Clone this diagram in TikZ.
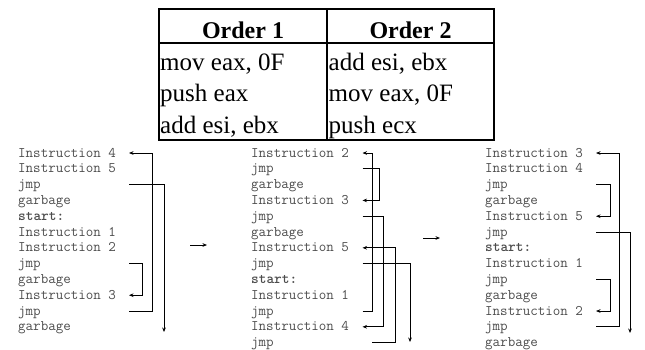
\documentclass[tikz,border=0pt]{standalone}
\usepackage{fontspec}
\setmainfont{Liberation Serif}
\usetikzlibrary{arrows.meta}
\begin{document}
\begin{tikzpicture}[x=1pt,y=-1pt,
  grid/.style={line width=1.6pt},
  head/.style={anchor=base, inner sep=0pt, font=\fontsize{24}{28}\selectfont\bfseries},
  cell/.style={anchor=base west, inner sep=0pt, font=\fontsize{25}{30}\selectfont},
  code/.style={anchor=base west, inner sep=0pt, text=black!70,
    font=\ttfamily\fontsize{14.6}{16}\selectfont},
  jl/.style={line width=0.7pt, -{Stealth[length=4.5pt,width=3.6pt]}}]
\useasboundingbox (0,0) rectangle (645,349);

% ---- instruction order table ----
\draw[grid] (159,9) rectangle (494,140);
\draw[grid] (159,43) -- (494,43);
\draw[grid] (327,9) -- (327,140);
\node[head] (h1) at (243,38) {Order 1};
\node[head] (h2) at (410.5,38) {Order 2};
\node[cell] (o11) at (160,70) {mov eax, 0F};
\node[cell] (o12) at (160,101.5) {push eax};
\node[cell] (o13) at (160,133) {add esi, ebx};
\node[cell] (o21) at (328.5,70) {add esi, ebx};
\node[cell] (o22) at (328.5,101.5) {mov eax, 0F};
\node[cell] (o23) at (328.5,133) {push ecx};

% ---- listing 1 ----
\foreach \t [count=\i from 0] in {Instruction 4,Instruction 5,jmp,garbage,\textbf{start:},Instruction 1,Instruction 2,jmp,garbage,Instruction 3,jmp,garbage}{
  \node[code] (ta\i) at (18,{157+15.8*\i}) {\t};
  \coordinate (a\i) at (129,{153+15.8*\i});
}
\coordinate (va1) at (142,0);
\coordinate (va2) at (152,0);
\coordinate (aout) at (164,332);
\draw[jl] (a7) -- (a7 -| va1) |- (a9);
\draw[jl] (a10) -- (a10 -| va2) |- (a0);
\draw[jl] (a2) -| (aout);

% ---- listing 2 ----
\foreach \t [count=\i from 0] in {Instruction 2,jmp,garbage,Instruction 3,jmp,garbage,Instruction 5,jmp,\textbf{start:},Instruction 1,jmp,Instruction 4,jmp}{
  \node[code] (tb\i) at (251,{157+15.8*\i}) {\t};
  \coordinate (b\i) at (362.5,{153+15.8*\i});
}
\coordinate (vb1) at (372,0);
\coordinate (vb2) at (379,0);
\coordinate (vb3) at (383,0);
\coordinate (vb4) at (395,0);
\coordinate (bout) at (410,342);
\coordinate (b12s) at (372,{153+15.8*12});
\draw[jl] (b10) -- (b10 -| vb1) |- (b0);
\draw[jl] (b1) -- (b1 -| vb2) |- (b3);
\draw[jl] (b4) -- (b4 -| vb3) |- (b11);
\draw[jl] (b12s) -- (b12s -| vb4) |- (b6);
\draw[jl] (b7) -| (bout);

% ---- listing 3 ----
\foreach \t [count=\i from 0] in {Instruction 3,Instruction 4,jmp,garbage,Instruction 5,jmp,\textbf{start:},Instruction 1,jmp,garbage,Instruction 2,jmp,garbage}{
  \node[code] (tc\i) at (485,{157+15.8*\i}) {\t};
  \coordinate (c\i) at (596,{153+15.8*\i});
}
\coordinate (vc1) at (610,0);
\coordinate (vc2) at (619,0);
\coordinate (cout) at (630,333);
\draw[jl] (c2) -- (c2 -| vc1) |- (c4);
\draw[jl] (c8) -- (c8 -| vc1) |- (c10);
\draw[jl] (c11) -- (c11 -| vc2) |- (c0);
\draw[jl] (c5) -| (cout);

% ---- transformation arrows ----
\coordinate (s1) at (190,245);
\coordinate (e1) at (207,245);
\coordinate (s2) at (423,238);
\coordinate (e2) at (440,238);
\draw[jl] (s1) -- (e1);
\draw[jl] (s2) -- (e2);
\end{tikzpicture}
\end{document}
